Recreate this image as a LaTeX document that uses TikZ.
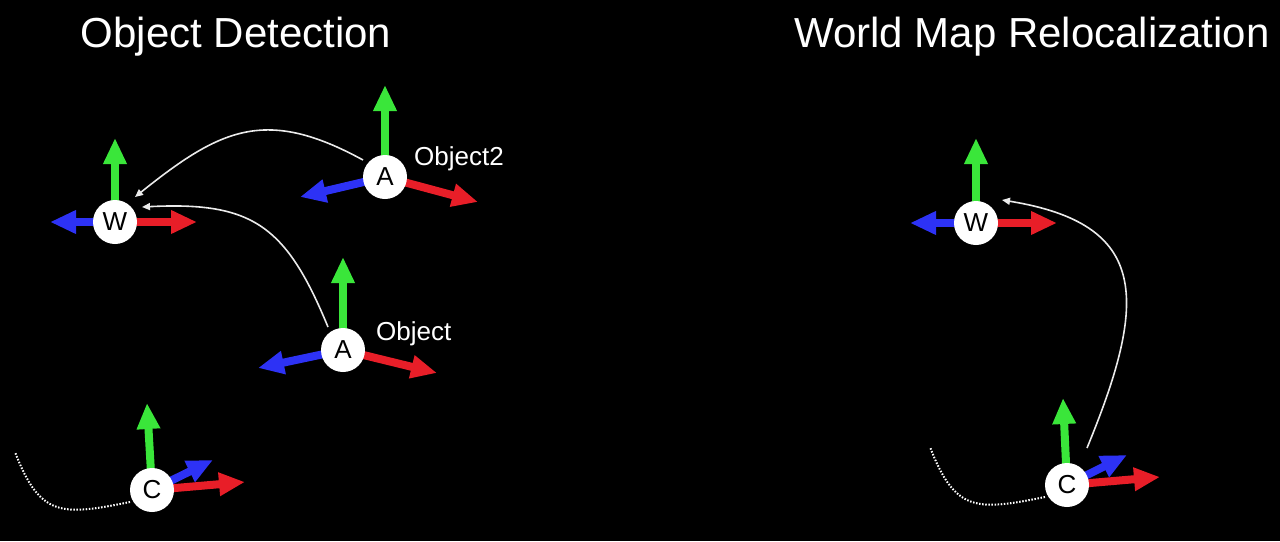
\documentclass[tikz,border=0pt]{standalone}
\usepackage{fontspec}
\setmainfont{Liberation Sans}
\usetikzlibrary{arrows.meta,calc}
\pgfdeclarelayer{bg}
\pgfdeclarelayer{axes}
\pgfsetlayers{bg,axes,main}
\definecolor{axgreen}{RGB}{58,230,58}
\definecolor{axblue}{RGB}{45,50,245}
\definecolor{axred}{RGB}{232,30,40}
\definecolor{connc}{RGB}{235,235,235}
\begin{document}
\begin{tikzpicture}[x=1pt,y=-1pt,
  frame/.style={circle,fill=white,minimum size=44pt,inner sep=0pt,font=\fontsize{26}{26}\selectfont,text=black},
  axis/.style={line width=8pt,-{Triangle[length=26pt,width=22pt]}},
  link/.style={connc,line width=1.6pt,-{Triangle[length=8pt,width=7pt]}},
  trail/.style={white,line width=2pt,dash pattern=on 1.5pt off 1.6pt},
  title/.style={text=white,font=\fontsize{42}{42}\selectfont,anchor=base,inner sep=0pt},
  lbl/.style={text=white,font=\fontsize{26}{26}\selectfont,anchor=base west,inner sep=0pt}]
\begin{pgfonlayer}{bg}
  \fill[black] (0,0) rectangle (1280,541);
\end{pgfonlayer}
\useasboundingbox (0,0) rectangle (1280,541);

% titles
\node[title] (tt1) at (236,47) {Object Detection};
\node[title] (tt2) at (1032,47) {World Map Relocalization};

% frames
\node[frame] (W1) at (115,222) {W};
\node[frame] (A2) at (385,177) {A};
\node[frame] (A1) at (343,350) {A};
\node[frame] (C1) at (152,490) {C};
\node[frame] (W2) at (976,223) {W};
\node[frame] (C2) at (1067,485) {C};

% labels
\node[lbl] (l2) at (414,165) {Object2};
\node[lbl] (l1) at (376,340) {Object};

% axis tips
\coordinate (w1y) at (115,138); \coordinate (w1x) at (197,222); \coordinate (w1z) at (50,222);
\coordinate (a2y) at (385,85);  \coordinate (a2x) at (478,202); \coordinate (a2z) at (300,197);
\coordinate (a1y) at (343,257); \coordinate (a1x) at (437,373); \coordinate (a1z) at (258,368);
\coordinate (c1y) at (147,403); \coordinate (c1x) at (245,482); \coordinate (c1z) at (213,460);
\coordinate (w2y) at (976,138); \coordinate (w2x) at (1057,223); \coordinate (w2z) at (910,223);
\coordinate (c2y) at (1063,398); \coordinate (c2x) at (1160,477); \coordinate (c2z) at (1127,455);

\begin{pgfonlayer}{axes}
  \foreach \n/\p in {W1/w1,A2/a2,A1/a1,C1/c1,W2/w2,C2/c2}{
    \draw[axis,axgreen] (\n.center) -- (\p y);
    \draw[axis,axred] (\n.center) -- (\p x);
    \draw[axis,axblue] (\n.center) -- (\p z);
  }
\end{pgfonlayer}

% connectors
\draw[link] ($(A2)+(-22,-17)$) .. controls (266,107) and (221,128) .. ($(W1)+(20,-25)$);
\draw[link] ($(A1)+(-15,-23)$) .. controls (286,225) and (252,201.5) .. ($(W1)+(27,-15)$);
\draw[link] ($(C2)+(20,-37)$) .. controls (1148,300) and (1150,224) .. ($(W2)+(26,-23)$);

% trajectories
\coordinate (tr1) at (15,452);
\coordinate (tr2) at (930,447);
\draw[trail] ($(C1)+(-22,12)$) .. controls (61,516) and (40,517) .. (tr1);
\draw[trail] ($(C2)+(-22,12)$) .. controls (976,511) and (955,512) .. (tr2);
\end{tikzpicture}
\end{document}
